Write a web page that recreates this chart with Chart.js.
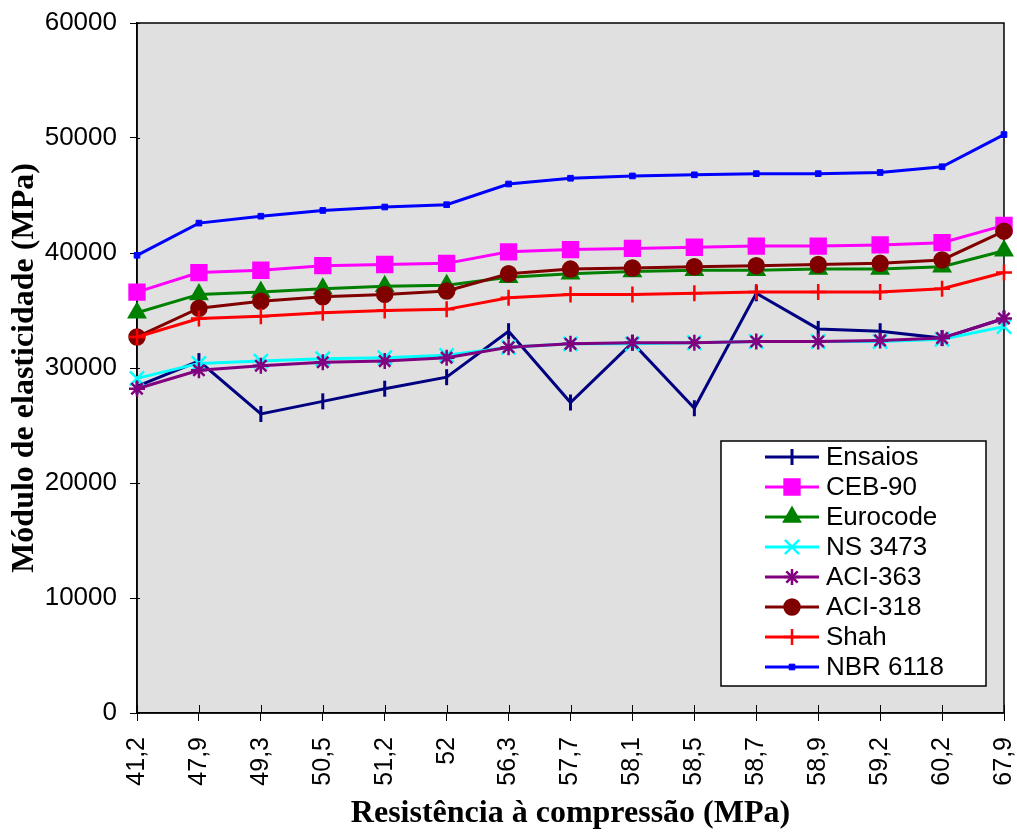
<!DOCTYPE html>
<html>
<head>
<meta charset="utf-8">
<script src="https://cdn.jsdelivr.net/npm/chart.js@4.4.0/dist/chart.umd.min.js"></script>
<style>
  html, body { margin: 0; padding: 0; background: #fff; }
  #wrap { width: 1017px; height: 835px; }
</style>
</head>
<body>
<div id="wrap"><canvas id="chart" width="1017" height="835"></canvas></div>
<script>
// categories (compressive strength, MPa)
const categories = ['41,2', '47,9', '49,3', '50,5', '51,2', '52', '56,3', '57,7', '58,1', '58,5', '58,7', '58,9', '59,2', '60,2', '67,9'];

// series values (MPa)
const ensaios  = [28400, 30600, 26000, 27100, 28200, 29200, 33200, 27000, 32200, 26500, 36500, 33400, 33200, 32600, 34300];
const ceb90    = [36600, 38300, 38500, 38900, 39000, 39100, 40100, 40300, 40400, 40500, 40600, 40600, 40700, 40900, 42400];
const eurocode = [34800, 36400, 36600, 36900, 37100, 37200, 37900, 38200, 38400, 38500, 38500, 38600, 38600, 38800, 40200];
const ns3473   = [29100, 30400, 30600, 30800, 30900, 31100, 31800, 32100, 32100, 32200, 32300, 32300, 32300, 32500, 33600];
const aci363   = [28200, 29800, 30200, 30500, 30600, 30900, 31800, 32100, 32200, 32200, 32300, 32300, 32400, 32600, 34300];
const aci318   = [32700, 35200, 35800, 36200, 36400, 36700, 38200, 38600, 38700, 38800, 38900, 39000, 39100, 39400, 41900];
const shah     = [32700, 34300, 34500, 34800, 35000, 35100, 36100, 36400, 36400, 36500, 36600, 36600, 36600, 36900, 38300];
const nbr6118  = [39800, 42600, 43200, 43700, 44000, 44200, 46000, 46500, 46700, 46800, 46900, 46900, 47000, 47500, 50300];

const yMin = 0, yMax = 60000, yStep = 10000;

function series(label, data, color, pointStyle, radius, extra) {
  return Object.assign({
    label: label,
    data: data,
    borderColor: color,
    backgroundColor: color,
    borderWidth: 3,
    pointStyle: pointStyle,
    pointRadius: radius,
    pointBorderWidth: 2.5,
    pointBackgroundColor: color,
    pointBorderColor: color,
    tension: 0,
    fill: false,
    clip: false
  }, extra || {});
}

const datasets = [
  series('Ensaios', ensaios, '#000080', 'line', 8, { pointRotation: 90, pointBorderWidth: 3 }),
  series('CEB-90', ceb90, '#ff00ff', 'rect', 10.5),
  series('Eurocode', eurocode, '#008000', 'triangle', 9),
  series('NS 3473', ns3473, '#00ffff', 'crossRot', 10),
  series('ACI-363', aci363, '#800080', 'star', 8),
  series('ACI-318', aci318, '#800000', 'circle', 7.5),
  series('Shah', shah, '#ff0000', 'cross', 8),
  series('NBR 6118', nbr6118, '#0000ff', 'rect', 4, { pointBorderWidth: 1 })
];
// Excel-like drawing order: first series underneath
datasets.forEach((d, i) => { d.order = datasets.length - i; });

// grey plot area with frame
const plotFrame = {
  id: 'plotFrame',
  beforeDraw(chart) {
    const { ctx, chartArea: a } = chart;
    ctx.save();
    ctx.fillStyle = '#e0e0e0';
    ctx.fillRect(a.left, a.top, a.right - a.left, a.bottom - a.top);
    ctx.restore();
  },
  beforeDatasetsDraw(chart) {
    const { ctx, chartArea: a } = chart;
    ctx.save();
    ctx.strokeStyle = '#000';
    ctx.lineWidth = 1.5;
    ctx.strokeRect(a.left, a.top, a.right - a.left, a.bottom - a.top);
    // inner part of the tick marks
    const xs = chart.scales.x, ys = chart.scales.y;
    ctx.lineWidth = 1;
    ctx.beginPath();
    xs.ticks.forEach((t, i) => {
      const px = Math.round(xs.getPixelForTick(i)) + 0.5;
      ctx.moveTo(px, a.bottom);
      ctx.lineTo(px, a.bottom - 8);
    });
    ys.ticks.forEach((t, i) => {
      const py = Math.round(ys.getPixelForTick(i)) + 0.5;
      ctx.moveTo(a.left, py);
      ctx.lineTo(a.left + 3, py);
    });
    ctx.stroke();
    ctx.restore();
  }
};

// legend box inside the plot
const boxLegend = {
  id: 'boxLegend',
  afterDatasetsDraw(chart) {
    const { ctx } = chart;
    const box = { x: 721, y: 441, w: 265, h: 245 };
    ctx.save();
    ctx.fillStyle = '#fff';
    ctx.fillRect(box.x, box.y, box.w, box.h);
    ctx.strokeStyle = '#000';
    ctx.lineWidth = 1.5;
    ctx.strokeRect(box.x, box.y, box.w, box.h);
    ctx.font = '26px "Liberation Sans", Arial, sans-serif';
    ctx.textBaseline = 'middle';
    ctx.textAlign = 'left';
    chart.data.datasets.forEach((d, i) => {
      const y = 457 + i * 30;
      ctx.strokeStyle = d.borderColor;
      ctx.lineWidth = d.borderWidth;
      ctx.beginPath();
      ctx.moveTo(765, y);
      ctx.lineTo(819, y);
      ctx.stroke();
      ctx.fillStyle = d.pointBackgroundColor;
      ctx.strokeStyle = d.pointBorderColor;
      ctx.lineWidth = d.pointBorderWidth;
      Chart.helpers.drawPoint(ctx, {
        pointStyle: d.pointStyle,
        radius: d.pointRadius,
        rotation: d.pointRotation || 0,
        borderWidth: d.pointBorderWidth
      }, 792, y);
      ctx.fillStyle = '#000';
      ctx.fillText(d.label, 826, y + 1);
    });
    ctx.restore();
  }
};

new Chart(document.getElementById('chart').getContext('2d'), {
  type: 'line',
  data: { labels: categories, datasets: datasets },
  plugins: [plotFrame, boxLegend],
  options: {
    responsive: false,
    animation: false,
    devicePixelRatio: 1,
    layout: { padding: { top: 23, right: 12, left: 0, bottom: 0 } },
    plugins: {
      legend: { display: false },
      tooltip: { enabled: false }
    },
    scales: {
      x: {
        offset: false,
        grid: { display: true, drawOnChartArea: false, color: '#000', tickLength: 8, tickWidth: 1 },
        border: { display: true, color: '#000', width: 1.5 },
        ticks: {
          autoSkip: false,
          maxRotation: 90,
          minRotation: 90,
          padding: 16,
          color: '#000',
          font: { family: '"Liberation Sans", Arial, sans-serif', size: 25 }
        },
        title: {
          display: true,
          text: 'Resistência à compressão (MPa)',
          color: '#000',
          padding: { top: 0, bottom: 2 },
          font: { family: '"Liberation Serif", "Times New Roman", serif', size: 32, weight: 'bold' }
        },
        afterFit(scale) {
          scale.height = 122;
          scale.paddingLeft = 0;
          scale.paddingRight = 0;
        }
      },
      y: {
        min: yMin,
        max: yMax,
        grid: { display: true, drawOnChartArea: false, color: '#000', tickLength: 7, tickWidth: 1 },
        border: { display: true, color: '#000', width: 1.5 },
        ticks: {
          stepSize: yStep,
          padding: 13,
          color: '#000',
          font: { family: '"Liberation Sans", Arial, sans-serif', size: 26 },
          callback: v => String(v)
        },
        title: {
          display: true,
          text: 'Módulo de elasticidade (MPa)',
          color: '#000',
          padding: { top: 6, bottom: 0 },
          font: { family: '"Liberation Serif", "Times New Roman", serif', size: 32, weight: 'bold' }
        },
        afterFit(scale) {
          scale.width = 137;
          scale.paddingTop = 0;
          scale.paddingBottom = 0;
        }
      }
    }
  }
});
</script>
</body>
</html>
